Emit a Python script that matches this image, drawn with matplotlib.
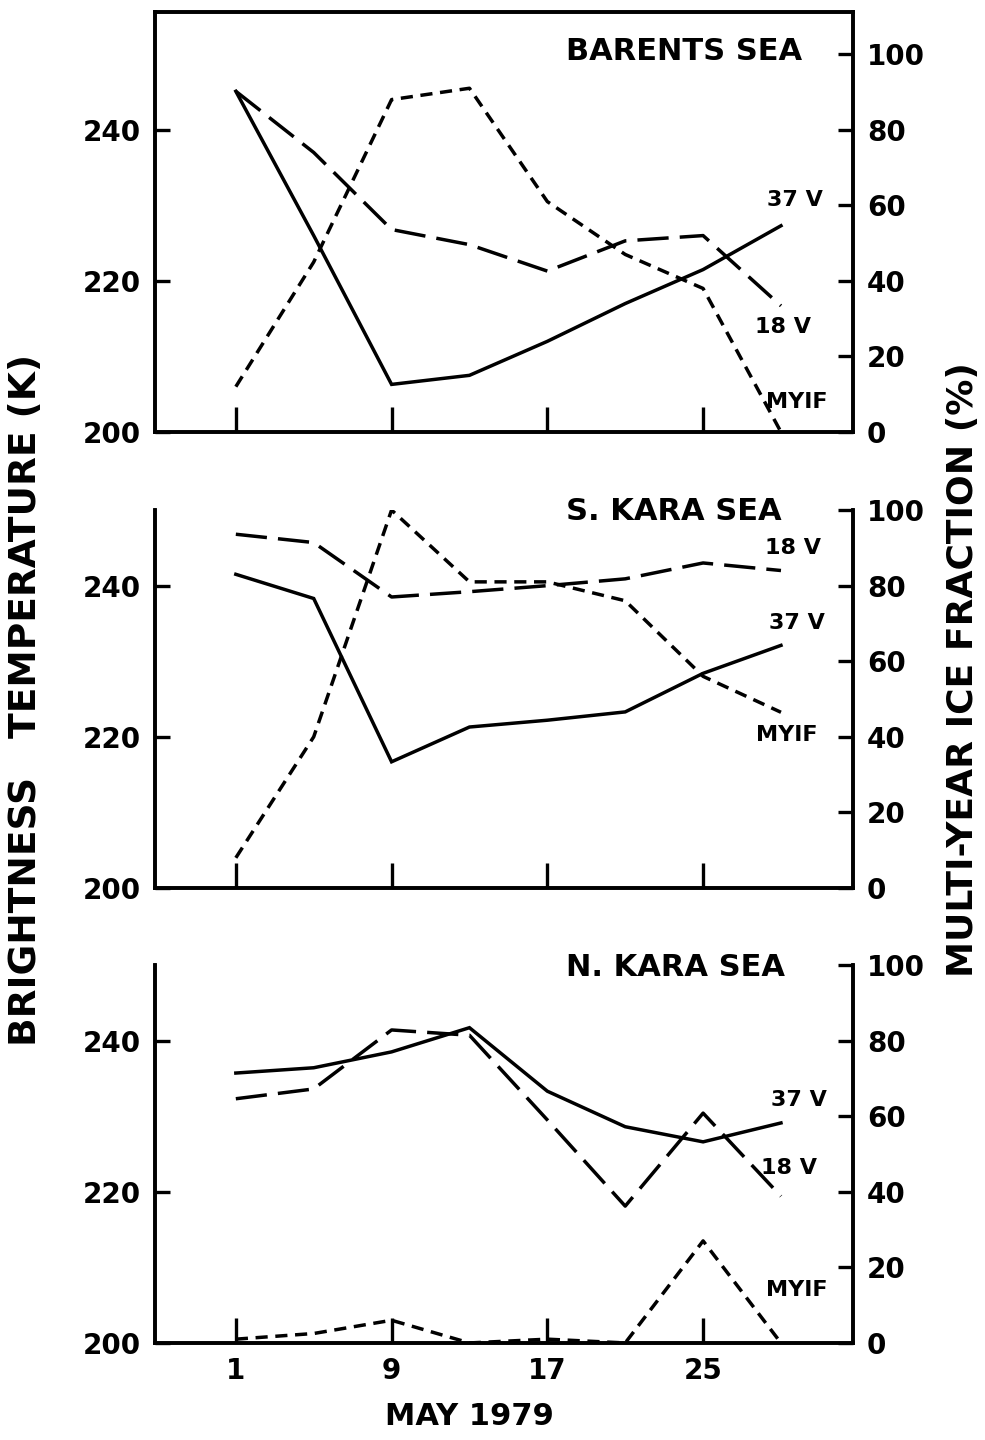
import matplotlib
matplotlib.use('Agg')
import matplotlib.pyplot as plt

# Observation days (May 1979)
days = [1, 5, 9, 13, 17, 21, 25, 29]

# Brightness temperatures (K) and multi-year ice fraction (%) per region
barents_37v = [245.1, 226.0, 206.3, 207.5, 212.0, 217.0, 221.5, 227.3]
barents_18v = [245.1, 237.0, 226.8, 224.8, 221.3, 225.3, 226.0, 216.7]
barents_myif = [12, 45, 88, 91, 61, 47, 38, 0]

skara_37v = [241.5, 238.3, 216.7, 221.3, 222.2, 223.3, 228.4, 232.1]
skara_18v = [246.8, 245.7, 238.5, 239.2, 240.0, 240.9, 243.0, 242.0]
skara_myif = [8, 40, 100, 81, 81, 76, 56, 46.5]

nkara_37v = [235.7, 236.4, 238.5, 241.7, 233.3, 228.6, 226.6, 229.1]
nkara_18v = [232.3, 233.6, 241.4, 240.7, 229.5, 218.1, 230.4, 219.4]
nkara_myif = [1, 2.5, 6, 0, 1, 0, 27, 0]

regions = ['BARENTS SEA', 'S. KARA SEA', 'N. KARA SEA']
xticks = [1, 9, 17, 25]
left_ticks = [200, 220, 240]
right_ticks = [0, 20, 40, 60, 80, 100]

FONT = 'DejaVu Sans'
LW = 2.5

panels = [
    dict(name=regions[0], t37=barents_37v, t18=barents_18v, myif=barents_myif,
         rect=[0.157, 0.700, 0.709, 0.2917], top=255.6, box=True,
         lab37=(29.7, 230.7), lab18=(29.1, 213.9), labmy=(29.8, 204.0), title=(24.0, 250.3)),
    dict(name=regions[1], t37=skara_37v, t18=skara_18v, myif=skara_myif,
         rect=[0.157, 0.3833, 0.709, 0.2625], top=250.0, box=False,
         lab37=(29.8, 235.1), lab18=(29.6, 245.0), labmy=(29.3, 220.3), title=(23.5, 249.8)),
    dict(name=regions[2], t37=nkara_37v, t18=nkara_18v, myif=nkara_myif,
         rect=[0.157, 0.0674, 0.709, 0.2625], top=250.0, box=False,
         lab37=(29.9, 232.2), lab18=(29.4, 223.2), labmy=(29.8, 207.0), title=(23.6, 249.7)),
]

fig = plt.figure(figsize=(9.85, 14.4), dpi=100)

for i, p in enumerate(panels):
    ax = fig.add_axes(p['rect'])
    ax2 = ax.twinx()

    ax.plot(days, p['t37'], color='black', lw=LW, solid_joinstyle='miter')
    ax.plot(days, p['t18'], color='black', lw=LW, dashes=(9, 3.2))
    ax2.plot(days, p['myif'], color='black', lw=LW, dashes=(3.5, 2.2))

    ax.set_xlim(-3.17, 32.7)
    ax.set_ylim(200, p['top'])
    ax2.set_ylim(0, (p['top'] - 200) * 2)

    ax.set_xticks(xticks)
    ax.set_yticks(left_ticks)
    ax2.set_yticks(right_ticks)
    ax.tick_params(axis='x', direction='in', length=18, width=2.4, pad=10,
                   labelsize=20, labelbottom=(i == 2))
    ax.tick_params(axis='y', direction='in', length=11, width=2.4, pad=10, labelsize=20)
    ax2.tick_params(axis='y', direction='in', length=11, width=2.4, pad=10, labelsize=20)

    for a in (ax, ax2):
        for s in a.spines.values():
            s.set_linewidth(2.6)
        if not p['box']:
            a.spines['top'].set_visible(False)
        for lab in a.get_xticklabels() + a.get_yticklabels():
            lab.set_fontweight('bold')
            lab.set_family(FONT)

    ax.text(*p['title'], p['name'], ha='center', va='center', fontsize=22,
            fontweight='bold', family=FONT)
    ax.text(*p['lab37'], '37 V', ha='center', va='center', fontsize=16,
            fontweight='bold', family=FONT)
    ax.text(*p['lab18'], '18 V', ha='center', va='center', fontsize=16,
            fontweight='bold', family=FONT)
    ax.text(*p['labmy'], 'MYIF', ha='center', va='center', fontsize=16,
            fontweight='bold', family=FONT)

fig.text(0.026, 0.514, 'BRIGHTNESS   TEMPERATURE (K)', rotation=90, ha='center',
         va='center', fontsize=27, fontweight='bold', family=FONT)
fig.text(0.978, 0.535, 'MULTI-YEAR ICE FRACTION (%)', rotation=90, ha='center',
         va='center', fontsize=26, fontweight='bold', family=FONT)
fig.text(0.477, 0.016, 'MAY 1979', ha='center', va='center', fontsize=22,
         fontweight='bold', family=FONT)

fig.savefig('out.png', dpi=100)
